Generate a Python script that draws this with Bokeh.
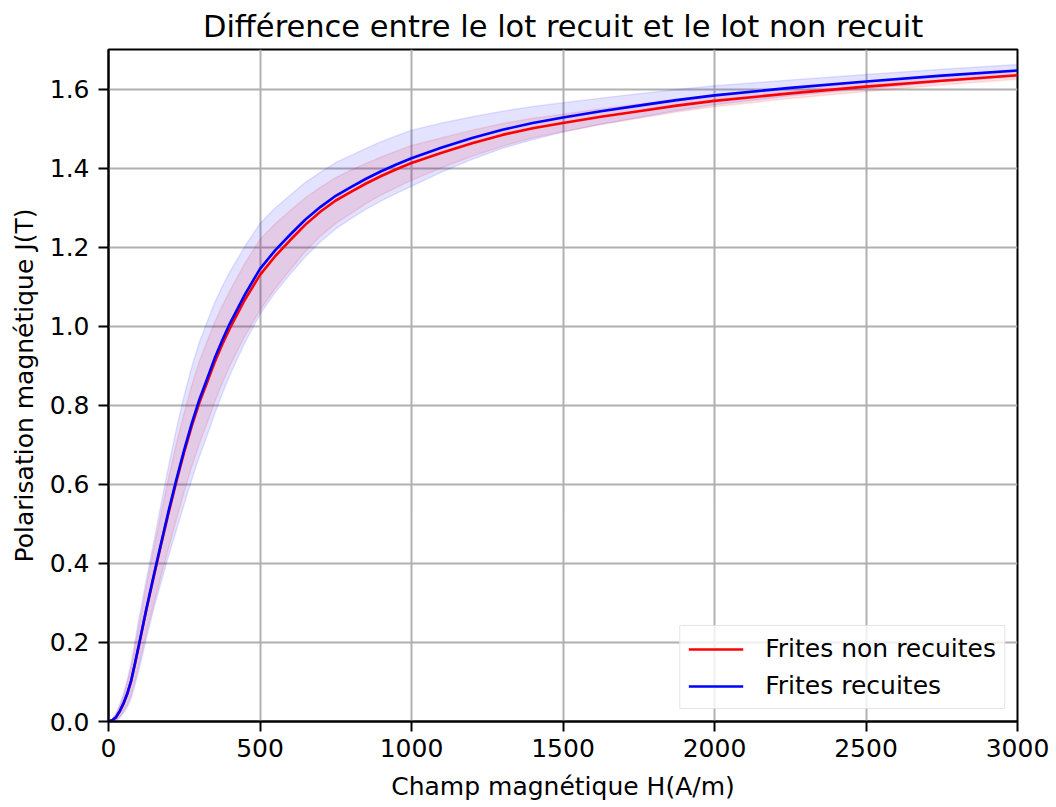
import numpy as np
from bokeh.plotting import figure
from bokeh.models import Range1d, FixedTicker, PrintfTickFormatter
from bokeh.embed import file_html
from bokeh.resources import INLINE

# Champ magnétique H (A/m)
H = [0, 12.5, 25, 37.5, 50, 62.5, 75, 87.5, 100, 125, 150, 175, 200, 225, 250, 275, 300,
     325, 350, 375, 400, 450, 500, 550, 600, 650, 700, 750, 800, 850, 900, 950, 1000,
     1100, 1200, 1300, 1400, 1500, 1625, 1750, 1875, 2000, 2250, 2500, 2750, 3000]

# Frites recuites (blue): mean J (T) and spread
J_recuites = [0.0, 0.003, 0.011, 0.027, 0.047, 0.072, 0.104, 0.148, 0.193, 0.285, 0.372,
              0.456, 0.538, 0.615, 0.688, 0.755, 0.815, 0.866, 0.918, 0.964, 1.006, 1.08,
              1.145, 1.192, 1.232, 1.27, 1.302, 1.33, 1.352, 1.373, 1.392, 1.409, 1.425,
              1.452, 1.476, 1.497, 1.514, 1.528, 1.544, 1.558, 1.572, 1.584, 1.603, 1.619,
              1.634, 1.647]
std_recuites = [0.0, 0.004, 0.01, 0.017, 0.025, 0.035, 0.045, 0.055, 0.065, 0.075, 0.085,
                0.1, 0.115, 0.128, 0.138, 0.143, 0.145, 0.144, 0.141, 0.136, 0.131, 0.122,
                0.115, 0.107, 0.1, 0.094, 0.088, 0.084, 0.08, 0.077, 0.075, 0.073, 0.071,
                0.062, 0.054, 0.047, 0.042, 0.037, 0.033, 0.03, 0.027, 0.024, 0.02, 0.018,
                0.016, 0.015]

# Frites non recuites (red): mean J (T) and spread
J_non_recuites = [0.0, 0.003, 0.011, 0.026, 0.046, 0.071, 0.103, 0.146, 0.191, 0.283, 0.369,
                  0.452, 0.533, 0.61, 0.682, 0.748, 0.807, 0.857, 0.908, 0.953, 0.994, 1.067,
                  1.13, 1.177, 1.218, 1.257, 1.29, 1.318, 1.34, 1.361, 1.38, 1.397, 1.413,
                  1.439, 1.463, 1.484, 1.501, 1.514, 1.53, 1.544, 1.558, 1.57, 1.589, 1.606,
                  1.621, 1.635]
std_non_recuites = [0.0, 0.003, 0.008, 0.014, 0.02, 0.028, 0.035, 0.043, 0.05, 0.06, 0.07,
                    0.08, 0.09, 0.096, 0.1, 0.103, 0.105, 0.104, 0.101, 0.098, 0.095, 0.092,
                    0.09, 0.082, 0.075, 0.068, 0.062, 0.058, 0.055, 0.051, 0.048, 0.046, 0.044,
                    0.038, 0.033, 0.029, 0.025, 0.022, 0.02, 0.018, 0.016, 0.015, 0.013, 0.012,
                    0.011, 0.01]

x_ticks = [0, 500, 1000, 1500, 2000, 2500, 3000]
y_ticks = [0.0, 0.2, 0.4, 0.6, 0.8, 1.0, 1.2, 1.4, 1.6]

FONT = "DejaVu Sans"

p = figure(width=1056, height=807, output_backend="svg", toolbar_location=None,
           x_range=Range1d(0, 3000), y_range=Range1d(0, 1.70),
           title="Différence entre le lot recuit et le lot non recuit",
           min_border_left=108, min_border_right=39, min_border_top=48, min_border_bottom=86)

p.title.align = "center"
p.title.text_font = FONT
p.title.text_font_size = "30.5px"
p.title.text_font_style = "normal"
p.title.text_color = "black"
p.title.standoff = 12

Hr = np.array(H)
for J, s, col in [(J_non_recuites, std_non_recuites, "red"), (J_recuites, std_recuites, "blue")]:
    J = np.array(J)
    s = np.array(s)
    p.varea(x=Hr, y1=J - s, y2=J + s, fill_color=col, fill_alpha=0.11)
    p.line(Hr, J + s, line_color=col, line_alpha=0.1, line_width=1.5)
    p.line(Hr, J - s, line_color=col, line_alpha=0.1, line_width=1.5)

p.line(H, J_non_recuites, line_color="red", line_width=2.6, legend_label="Frites non recuites")
p.line(H, J_recuites, line_color="blue", line_width=2.6, legend_label="Frites recuites")

p.xaxis.ticker = FixedTicker(ticks=x_ticks)
p.yaxis.ticker = FixedTicker(ticks=y_ticks)
p.yaxis.formatter = PrintfTickFormatter(format="%.1f")
p.xaxis.axis_label = "Champ magnétique H(A/m)"
p.yaxis.axis_label = "Polarisation magnétique J(T)"

for ax in (p.xaxis, p.yaxis):
    ax.axis_label_text_font = FONT
    ax.axis_label_text_font_size = "25px"
    ax.axis_label_text_font_style = "normal"
    ax.axis_label_text_color = "black"
    ax.major_label_text_font = FONT
    ax.major_label_text_font_size = "25px"
    ax.major_label_text_color = "black"
    ax.axis_line_color = "black"
    ax.axis_line_width = 2
    ax.major_tick_line_color = "black"
    ax.major_tick_line_width = 2
    ax.major_tick_out = 10
    ax.major_tick_in = 0
    ax.minor_tick_line_color = None
p.yaxis.major_label_standoff = 9
p.yaxis.axis_label_standoff = 8
p.xaxis.major_label_standoff = 7
p.xaxis.axis_label_standoff = 12

p.xgrid.ticker = FixedTicker(ticks=x_ticks)
p.ygrid.ticker = FixedTicker(ticks=y_ticks)
p.grid.grid_line_color = "#b0b0b0"
p.grid.grid_line_width = 2

p.outline_line_color = "black"
p.outline_line_width = 2
p.outline_line_alpha = 1

p.legend.location = "bottom_right"
p.legend.margin = 12
p.legend.padding = 8
p.legend.spacing = 8
p.legend.glyph_width = 55
p.legend.label_standoff = 22
p.legend.label_text_font = FONT
p.legend.label_text_font_size = "25px"
p.legend.label_text_color = "black"
p.legend.border_line_color = "#cccccc"
p.legend.border_line_width = 1.5
p.legend.background_fill_alpha = 0.8

open("out.html", "w").write(file_html(p, INLINE))
